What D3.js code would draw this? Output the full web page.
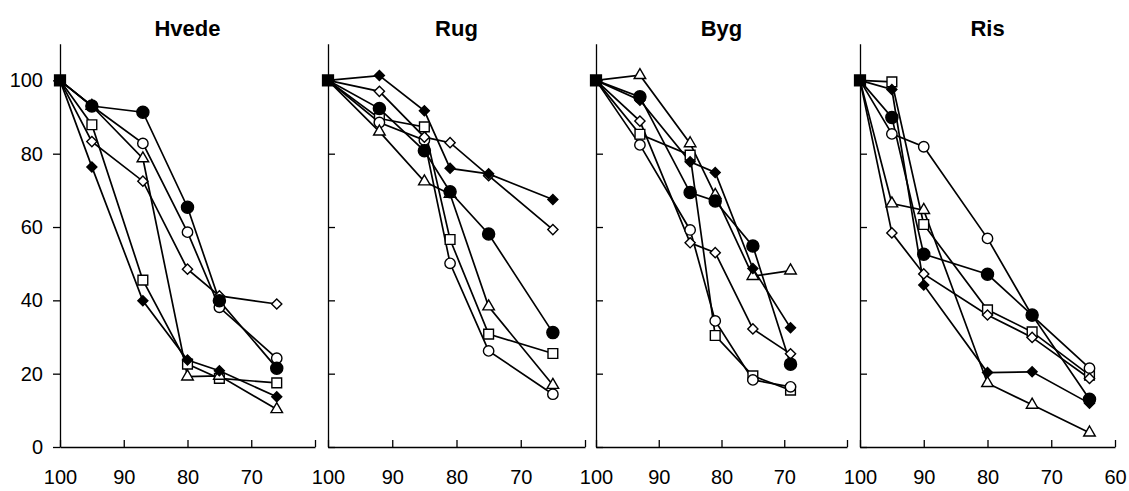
<!DOCTYPE html>
<html>
<head>
<meta charset="utf-8">
<script src="https://cdn.jsdelivr.net/npm/d3@7"></script>
<style>
  body { margin: 0; background: #fff; }
  svg { display: block; font-family: "Liberation Sans", Arial, sans-serif; }
  .domain { stroke: #000; stroke-width: 1.3; }
  .tick line { stroke: #000; stroke-width: 1.3; }
  .tick text { font-size: 20px; fill: #000; }
</style>
</head>
<body>
<div id="chart"></div>
<script>
// afgrøder (paneler)
const crops = ["Hvede", "Rug", "Byg", "Ris"];

// serierne, i samme rækkefølge som værdierne nedenfor
const seriesKeys = ["circleFilled", "circleOpen", "squareOpen", "triangleOpen", "diamondOpen", "diamondFilled"];

// x-værdier pr. afgrøde
const hvedeX = [100, 95, 87, 80, 75, 66];
const rugX   = [100, 92, 85, 81, 75, 65];
const bygX   = [100, 93, 85, 81, 75, 69];
const risX   = [100, 95, 90, 80, 73, 64];

// y-værdier pr. afgrøde (en række pr. serie)
const hvedeY = [
  [100, 93.0, 91.3, 65.4, 39.9, 21.5],
  [100, 93.0, 82.8, 58.6, 38.1, 24.2],
  [100, 87.9, 45.5, 22.6, 18.7, 17.5],
  [100, 93.0, 78.7, 19.2, 19.4, 10.3],
  [100, 83.3, 72.5, 48.5, 41.2, 39.0],
  [100, 76.4, 39.9, 23.7, 20.8, 13.7]
];
const rugY = [
  [100, 92.3, 80.8, 69.6, 58.1, 31.2],
  [100, 88.5, 83.7, 50.1, 26.2, 14.4],
  [100, 89.6, 87.3, 56.6, 30.8, 25.5],
  [100, 86.0, 72.4, 69.0, 38.3, 16.9],
  [100, 97.0, 84.5, 83.0, 74.0, 59.3],
  [100, 101.3, 91.7, 76.0, 74.5, 67.5]
];
const bygY = [
  [100, 95.5, 69.4, 67.1, 54.8, 22.6],
  [100, 82.4, 59.2, 34.4, 18.3, 16.4],
  [100, 85.3, 79.6, 30.4, 19.4, 15.5],
  [100, 101.4, 82.8, 68.7, 46.6, 48.1],
  [100, 88.9, 55.7, 53.0, 32.2, 25.4],
  [100, 94.6, 77.8, 74.9, 48.7, 32.5]
];
const risY = [
  [100, 89.9, 52.6, 47.1, 36.0, 13.0],
  [100, 85.4, 81.9, 56.9, 35.8, 21.5],
  [100, 99.6, 60.7, 37.4, 31.4, 19.6],
  [100, 66.4, 64.6, 17.4, 11.5, 3.9],
  [100, 58.4, 47.2, 36.0, 29.9, 18.7],
  [100, 97.5, 44.2, 20.3, 20.5, 11.9]
];

const xValues = [hvedeX, rugX, bygX, risX];
const yValues = [hvedeY, rugY, bygY, risY];

const xTicks = [100, 90, 80, 70, 60];
const yTicks = [0, 20, 40, 60, 80, 100];

// layout
const W = 1129, H = 491;
const panelLeft  = [60, 328, 596, 860];
const panelWidth = [255, 257, 251, 255];
const yBottom = 447, yTop = 43.7;

// markør-udseende; z = tegnerækkefølge (fyldte øverst)
const markerStyle = {
  circleFilled:  { type: d3.symbolCircle, size: 115, fill: "#000", rot: 0, z: 6 },
  circleOpen:    { type: d3.symbolCircle, size: 85,  fill: "#fff", rot: 0, z: 2 },
  squareOpen:    { type: d3.symbolSquare, size: 95,  fill: "#fff", rot: 0, z: 1 },
  triangleOpen:  { type: d3.symbolTriangle, size: 58, fill: "#fff", rot: 0, z: 3 },
  diamondOpen:   { type: d3.symbolSquare, size: 52,  fill: "#fff", rot: 45, z: 4 },
  diamondFilled: { type: d3.symbolSquare, size: 50,  fill: "#000", rot: 45, z: 5 }
};

const svg = d3.select("#chart").append("svg")
  .attr("width", W).attr("height", H);

const y = d3.scaleLinear().domain([0, 110]).range([yBottom, yTop]);

crops.forEach((crop, i) => {
  const x0 = panelLeft[i];
  const x = d3.scaleLinear().domain([100, 60]).range([x0, x0 + panelWidth[i]]);
  const g = svg.append("g");

  // x-akse, tænder indad
  g.append("g")
    .attr("transform", `translate(0,${yBottom})`)
    .call(d3.axisBottom(x)
      .tickValues(xTicks)
      .tickSize(-7)
      .tickSizeOuter(0)
      .tickPadding(23)
      .tickFormat(d => (d === 60 && i < 3) ? "" : d));

  // y-akse: kun første panel har tal
  g.append("g")
    .attr("transform", `translate(${x0},0)`)
    .call(d3.axisLeft(y)
      .tickValues(yTicks)
      .tickSize(i === 0 ? 7 : -7)
      .tickSizeOuter(0)
      .tickPadding(10)
      .tickFormat(d => i === 0 ? d : ""));

  g.selectAll(".tick text").style("font-size", "20px");

  // titel
  g.append("text")
    .attr("x", x0 + panelWidth[i] / 2)
    .attr("y", 36)
    .attr("text-anchor", "middle")
    .style("font-size", "22px")
    .style("font-weight", "bold")
    .text(crop);

  const xs = xValues[i];
  const series = yValues[i].map((vals, k) => ({
    key: seriesKeys[k],
    points: vals.map((v, j) => ({ x: xs[j], y: v }))
  }));

  const line = d3.line().x(d => x(d.x)).y(d => y(d.y));

  g.selectAll("path.series")
    .data(series)
    .join("path")
    .attr("class", "series")
    .attr("d", d => line(d.points))
    .attr("fill", "none")
    .attr("stroke", "#000")
    .attr("stroke-width", 1.7);

  series
    .slice()
    .sort((a, b) => markerStyle[a.key].z - markerStyle[b.key].z)
    .forEach(s => {
      const st = markerStyle[s.key];
      g.selectAll(null)
        .data(s.points.slice(1))
        .join("path")
        .attr("transform", d => `translate(${x(d.x)},${y(d.y)}) rotate(${st.rot})`)
        .attr("d", d3.symbol().type(st.type).size(st.size))
        .attr("fill", st.fill)
        .attr("stroke", "#000")
        .attr("stroke-width", 1.4);
    });

  // fælles startpunkt (100, 100)
  g.append("path")
    .attr("transform", `translate(${x(100)},${y(100)})`)
    .attr("d", d3.symbol().type(d3.symbolSquare).size(150))
    .attr("fill", "#000");
});
</script>
</body>
</html>
